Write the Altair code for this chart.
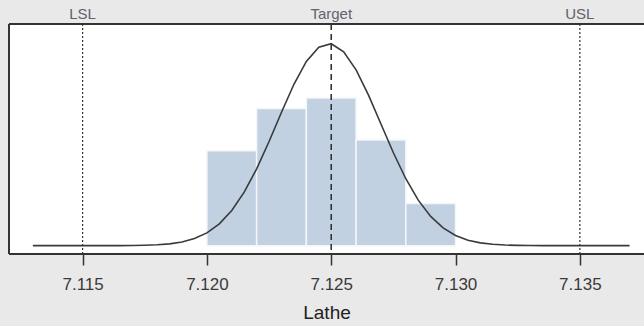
import altair as alt
import pandas as pd

# Histogram bins (bin start, bin end) and density heights
bin_start = [7.120, 7.122, 7.124, 7.126, 7.128]
bin_end = [7.122, 7.124, 7.126, 7.128, 7.130]
bin_density = [90, 130, 140, 100, 40]

# Fitted normal curve
curve_x = [7.1130, 7.1135, 7.1140, 7.1145, 7.1150, 7.1155, 7.1160, 7.1165, 7.1170, 7.1175,
           7.1180, 7.1185, 7.1190, 7.1195, 7.1200, 7.1205, 7.1210, 7.1215, 7.1220, 7.1225,
           7.1230, 7.1235, 7.1240, 7.1245, 7.1250, 7.1255, 7.1260, 7.1265, 7.1270, 7.1275,
           7.1280, 7.1285, 7.1290, 7.1295, 7.1300, 7.1305, 7.1310, 7.1315, 7.1320, 7.1325,
           7.1330, 7.1335, 7.1340, 7.1345, 7.1350, 7.1355, 7.1360, 7.1365, 7.1370]
curve_y = [0.0, 0.0, 0.0, 0.0, 0.0, 0.01, 0.02, 0.06, 0.15, 0.35,
           0.8, 1.7, 3.5, 6.7, 12.1, 20.7, 33.3, 50.7, 72.8, 98.7,
           126.4, 152.9, 174.5, 188.0, 191.3, 183.7, 166.6, 142.6, 115.3, 88.0,
           63.4, 43.1, 27.7, 16.8, 9.6, 5.2, 2.65, 1.28, 0.58, 0.25,
           0.10, 0.04, 0.01, 0.0, 0.0, 0.0, 0.0, 0.0, 0.0]

# Specification limits
spec_names = ["LSL", "Target", "USL"]
spec_values = [7.115, 7.125, 7.135]

tick_values = [7.115, 7.120, 7.125, 7.130, 7.135]

W, H = 635, 230
FONT = "Liberation Sans"

xscale = alt.Scale(domain=[7.11204, 7.13758], nice=False, zero=False)
yscale = alt.Scale(domain=[-7.9, 210], nice=False, zero=False)

hist_df = pd.DataFrame({"start": bin_start, "end": bin_end, "density": bin_density})
curve_df = pd.DataFrame({"x": curve_x, "y": curve_y})
spec_df = pd.DataFrame({"name": spec_names, "value": spec_values})

xaxis = alt.Axis(
    values=tick_values, format=".3f", grid=False, domain=False,
    tickSize=11, tickColor="#333333", tickWidth=1.5,
    labelFont=FONT, labelFontSize=17, labelColor="#3a3a3a", labelPadding=11,
    title="Lathe", titleFont=FONT, titleFontSize=19, titleFontWeight="normal",
    titleColor="#222222", titlePadding=11,
)

bars = alt.Chart(hist_df).mark_rect(color="#c2d1e2", stroke="#f4f6f9", strokeWidth=1.5).encode(
    x=alt.X("start:Q", scale=xscale, axis=xaxis),
    x2="end:Q",
    y=alt.Y("density:Q", scale=yscale, axis=None),
    y2=alt.datum(0),
)

curve = alt.Chart(curve_df).mark_line(color="#3a3a3a", strokeWidth=1.6).encode(
    x=alt.X("x:Q", scale=xscale),
    y=alt.Y("y:Q", scale=yscale),
)

limits = alt.Chart(spec_df[spec_df["name"] != "Target"]).mark_rule(
    color="#333333", strokeWidth=1.2, strokeDash=[2, 2]
).encode(
    x=alt.X("value:Q", scale=xscale),
    y=alt.value(0), y2=alt.value(H),
)

target = alt.Chart(spec_df[spec_df["name"] == "Target"]).mark_rule(
    color="#333333", strokeWidth=1.6, strokeDash=[6, 4]
).encode(
    x=alt.X("value:Q", scale=xscale),
    y=alt.value(0), y2=alt.value(H),
)

labels = alt.Chart(spec_df).mark_text(
    font=FONT, fontSize=15, color="#62626c", baseline="middle", align="center"
).encode(
    x=alt.X("value:Q", scale=xscale),
    y=alt.value(-10),
    text="name:N",
)

frame_left = alt.Chart(spec_df).mark_rule(color="#333333", strokeWidth=2).encode(
    x=alt.value(0), y=alt.value(0), y2=alt.value(H)
)
frame_top = alt.Chart(spec_df).mark_rule(color="#333333", strokeWidth=2).encode(
    x=alt.value(0), x2=alt.value(W), y=alt.value(0)
)
frame_bottom = alt.Chart(spec_df).mark_rule(color="#333333", strokeWidth=2).encode(
    x=alt.value(0), x2=alt.value(W), y=alt.value(H)
)

chart = alt.layer(
    bars, curve, limits, target, labels, frame_left, frame_top, frame_bottom
).properties(
    width=W, height=H,
    autosize=alt.AutoSizeParams(type="none"),
    padding={"left": 9, "top": 24, "right": 0, "bottom": 72},
    background="#e9e9e9",
).configure_view(
    stroke=None, fill="white"
)

chart.save("out.html", embed_options={"renderer": "svg", "actions": False})
